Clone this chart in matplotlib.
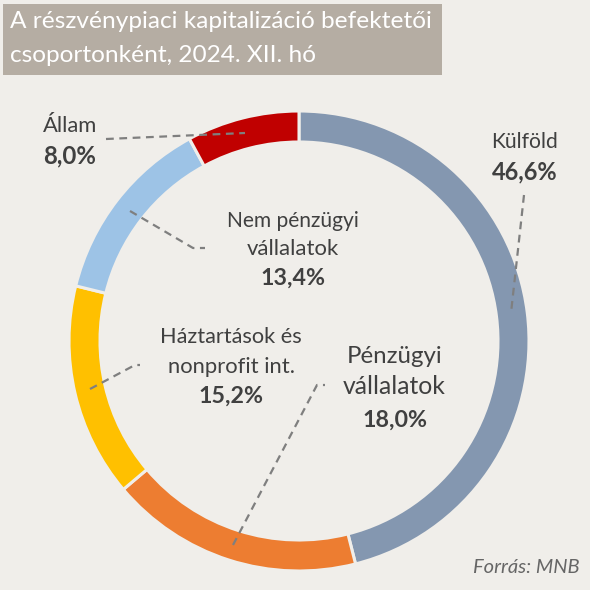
import matplotlib
matplotlib.use("Agg")
import matplotlib.pyplot as plt
from matplotlib.patches import Rectangle

plt.rcParams['font.family'] = ['Lato', 'DejaVu Sans']

categories = ["Külföld", "Pénzügyi vállalatok", "Háztartások és nonprofit int.",
              "Nem pénzügyi vállalatok", "Állam"]
name_lines = [["Külföld"], ["Pénzügyi", "vállalatok"], ["Háztartások és", "nonprofit int."],
              ["Nem pénzügyi", "vállalatok"], ["Állam"]]
values = [46.6, 18.0, 15.2, 13.4, 8.0]
pct_labels = ["46,6%", "18,0%", "15,2%", "13,4%", "8,0%"]
colors = ["#8497B0", "#ED7D31", "#FFC000", "#9DC3E6", "#C00000"]
title_lines = ["A részvénypiaci kapitalizáció befektetői", "csoportonként, 2024. XII. hó"]
source = "Forrás: MNB"

BG = "#F0EEEA"
TXT = "#404040"
W = H = 590

fig = plt.figure(figsize=(5.9, 5.9), dpi=100, facecolor=BG)
ax = fig.add_axes([0, 0, 1, 1])
renderer = fig.canvas.get_renderer()


def py(y):
    return H - y


def fit_text(x, ybase, s, width, ha='left', **kw):
    t = ax.text(x, py(ybase), s, fontsize=10, ha=ha, va='baseline', **kw)
    w = t.get_window_extent(renderer=renderer).width
    t.set_fontsize(10 * width / w)
    return t


# Donut
cx, cy, R = 299, py(341), 230
ax.pie(values, colors=colors, startangle=90, counterclock=False, center=(cx, cy),
       radius=R, frame=True,
       wedgeprops=dict(width=31, edgecolor=BG, linewidth=2.2))
ax.set_xlim(0, W)
ax.set_ylim(0, H)
ax.set_aspect('equal')
ax.axis('off')

# Title box
ax.add_patch(Rectangle((3, py(75)), 439, 71, facecolor="#B5ADA3", edgecolor='none', zorder=1))
t1 = fit_text(9.5, 28, title_lines[0], 423, color='white', zorder=2)
ax.text(9.5, py(62), title_lines[1], fontsize=t1.get_fontsize(), ha='left',
        va='baseline', color='white', zorder=2)

# Leader lines (layout, in pixel coords)
leaders = [
    [(524, 195), (511, 313)],
    [(233, 545), (317, 385), (325, 385)],
    [(90, 389), (135, 365), (140, 365)],
    [(130, 211), (193, 248), (205, 248)],
    [(106, 139), (245, 133)],
]
for pts in leaders:
    xs = [p[0] for p in pts]
    ys = [py(p[1]) for p in pts]
    ax.plot(xs, ys, color="#7F7F7F", lw=1.6, ls=(0, (3.5, 2.5)), zorder=5)

# Labels: (x, ha, baselines of name lines, baseline of pct, widths of name lines, pct width)
label_layout = [
    (524.5, 'center', [148], 179, [67], 66),
    (394.5, 'center', [363, 394], 427, [95, 103], 65),
    (231, 'center', [343, 373], 403, [142, 128], 65),
    (293, 'center', [227, 255], 285, [132, 92], 65),
    (42.7, 'left', [132], 163, [54], 53),
]
for (x, ha, ybs, yp, ws, wp), lines, pct in zip(label_layout, name_lines, pct_labels):
    for yb, w, s in zip(ybs, ws, lines):
        fit_text(x, yb, s, w, ha=ha, color=TXT, zorder=6)
    fit_text(x, yp, pct, wp, ha=ha, color=TXT, fontweight='bold', zorder=6)

fit_text(580, 573, source, 107, ha='right', color="#666666", style='italic')

fig.savefig("out.png", dpi=100, facecolor=BG)
